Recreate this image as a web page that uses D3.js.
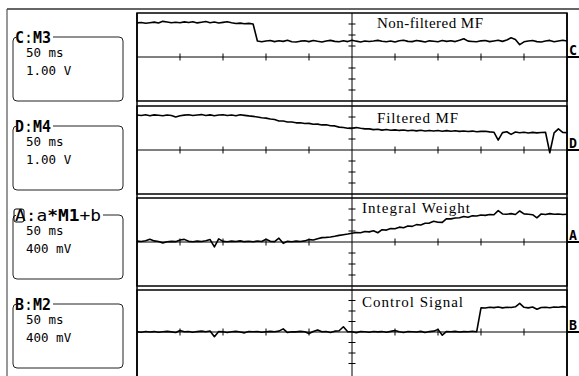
<!DOCTYPE html>
<html>
<head>
<meta charset="utf-8">
<script src="https://cdn.jsdelivr.net/npm/d3@7"></script>
<style>
  html, body { margin: 0; padding: 0; background: #fff; }
  svg { display: block; }
</style>
</head>
<body>
<svg id="scope" width="579" height="376"></svg>
<script>
// scope traces, one sample every 5 ms (50 ms/div, 10 divs), values in vertical divisions
const sampleMs = 5;
const timeTicks = [0, 50, 100, 150, 200, 250, 300, 350, 400, 450, 500];
const divTicks = [-4, -3, -2, -1, 0, 1, 2, 3, 4];

const traceC = [
  3.10,3.14,3.07,3.12,3.17,3.09,3.24,3.18,3.11,3.16,
  3.12,3.19,3.13,3.21,3.10,3.16,3.22,3.12,3.18,3.09,
  3.15,3.20,3.11,3.04,3.08,3.02,3.06,3.00,
  1.45,1.38,1.46,1.50,1.40,1.47,1.42,1.52,1.39,1.36,
  1.44,1.48,1.40,1.50,1.43,1.37,1.46,1.51,1.42,1.38,
  1.47,1.40,1.52,1.44,1.37,1.46,1.41,1.45,1.51,1.43,
  1.39,1.46,1.36,1.48,1.53,1.42,1.40,1.50,1.44,1.37,
  1.47,1.43,1.39,1.50,1.42,1.47,1.40,1.52,1.66,1.44,
  1.41,1.38,1.47,1.50,1.40,1.46,1.52,1.42,1.55,1.75,
  1.60,1.12,1.38,1.46,1.50,1.40,1.36,1.45,1.51,1.39,
  1.46,1.52,1.45
];

const traceD = [
  3.18,3.14,3.21,3.12,3.19,3.16,3.11,3.18,3.14,3.00,
  3.12,3.17,3.21,3.13,3.18,3.22,3.14,3.19,3.12,3.18,
  3.21,3.14,3.18,3.12,3.20,3.15,3.10,3.06,
  3.00,2.93,2.90,2.82,2.77,2.64,2.63,2.55,2.54,2.47,
  2.48,2.41,2.42,2.34,2.35,2.28,2.29,2.20,2.19,2.08,
  2.05,1.98,1.97,
  2.05,1.98,1.92,1.92,1.85,1.88,1.81,1.86,1.79,1.83,
  1.78,1.82,1.75,1.80,1.74,1.79,1.73,1.78,1.72,1.77,
  1.71,1.76,1.70,1.75,1.69,1.73,1.68,1.72,1.66,1.69,
  1.70,1.65,1.62,0.90,1.58,1.66,1.42,1.63,1.57,1.61,
  1.55,1.60,1.56,1.59,1.62,-0.25,1.55,1.92,1.60,1.57
];

const traceA = [
  0.08,0.05,0.12,0.25,0.10,0.04,-0.08,0.02,0.06,0.03,
  0.18,0.24,0.06,0.02,0.08,0.04,0.12,0.22,-0.45,0.28,
  0.06,0.02,0.08,0.04,0.10,0.03,0.07,0.02,0.09,0.05,
  0.25,0.06,0.03,0.35,-0.12,0.06,0.02,0.08,0.05,0.10,
  0.22,0.18,0.30,0.40,0.42,0.45,0.52,0.60,0.66,0.72,
  0.79,0.86,0.84,0.95,0.92,1.02,0.84,1.12,1.08,1.22,
  1.20,1.35,1.30,1.45,1.42,1.58,1.55,1.70,1.72,1.88,
  1.80,1.78,2.12,2.10,2.18,2.20,2.32,2.25,2.38,2.36,
  2.45,2.42,2.50,2.48,2.85,2.55,2.52,2.58,2.50,2.82,
  2.56,2.52,2.48,2.20,2.55,2.50,2.58,2.52,2.55,2.50,
  2.52
];

const traceB = [
  0.02,-0.03,0.05,0.00,0.04,-0.02,0.03,0.06,0.01,-0.04,
  0.15,0.02,0.05,-0.03,0.04,0.08,0.02,0.10,-0.45,0.05,
  0.02,-0.05,0.03,0.06,0.00,-0.08,0.04,0.02,0.05,-0.03,
  0.03,0.06,0.02,0.08,0.30,-0.05,0.03,0.01,0.06,0.02,
  -0.15,0.04,0.20,0.02,0.05,-0.04,0.08,0.12,0.50,0.02,
  0.03,-0.06,0.04,0.02,-0.03,0.05,0.01,0.04,-0.02,0.06,
  0.15,0.02,-0.04,0.05,0.03,0.00,0.06,-0.05,0.04,0.08,
  0.25,-0.30,0.05,0.02,0.06,0.00,0.04,0.02,0.07,0.03,
  2.30,2.28,2.35,2.32,2.38,2.30,2.36,2.33,2.40,2.72,
  2.35,2.30,2.38,2.16,2.34,2.36,2.31,2.38,2.35,2.42,
  2.36
];

const traceNames = ["Non-filtered MF", "Filtered MF", "Integral Weight", "Control Signal"];
const traceMarkers = ["C", "D", "A", "B"];
// box titles: [text, bold]
const boxTitles = [
  [["C", true], [":", false], ["M3", true]],
  [["D", true], [":", false], ["M4", true]],
  [["A", false], [":a", false], ["*", true], ["M1", true], ["+b", false]],
  [["B", true], [":", false], ["M2", true]]
];
const timePerDiv = ["50 ms", "50 ms", "50 ms", "50 ms"];
const voltsPerDiv = ["1.00 V", "1.00 V", "400 mV", "400 mV"];

// layout
const panelTop = [13, 106, 198, 290];
const panelZero = [57, 150, 242, 332];
const labelPos = [[377, 28, 106], [377, 123, 81], [362, 213, 108], [362, 306.5, 101]];
const boxTop = [37, 126, 215, 304];
const titleWidth = [36, 36, 86, 36];

const svg = d3.select("#scope");
const x = d3.scaleLinear().domain([0, 500]).range([137, 567]);
const traces = [traceC, traceD, traceA, traceB];

// outer frame
svg.append("line").attr("x1", 7).attr("x2", 579).attr("y1", 9).attr("y2", 9)
  .attr("stroke", "#333").attr("stroke-width", 1.3);
svg.append("line").attr("x1", 7).attr("x2", 7).attr("y1", 9).attr("y2", 376)
  .attr("stroke", "#444").attr("stroke-width", 1.1);

traces.forEach((data, k) => {
  const top = panelTop[k], zero = panelZero[k];
  const div = (zero - top) / 4;
  const y = d3.scaleLinear().domain([-4, 4]).range([zero + 4 * div, top]);
  const bottom = k === 3 ? 382 : y(-4);
  const g = svg.append("g");

  g.append("rect")
    .attr("x", x(0)).attr("y", top)
    .attr("width", x(500) - x(0)).attr("height", bottom - top)
    .attr("fill", "none").attr("stroke", "#000").attr("stroke-width", 1.5);

  // graticule: zero line + center line with ticks
  g.append("line").attr("x1", x(0)).attr("x2", x(500)).attr("y1", y(0)).attr("y2", y(0))
    .attr("stroke", "#000").attr("stroke-width", 1);
  g.selectAll(".xt").data(timeTicks.filter(t => t > 0 && t < 500 && t !== 250)).join("line")
    .attr("x1", d => x(d)).attr("x2", d => x(d))
    .attr("y1", y(0) - 3.5).attr("y2", y(0) + 3.5)
    .attr("stroke", "#000").attr("stroke-width", 1);
  g.selectAll(".yt").data(divTicks.filter(v => v !== 0 && v > -4 && v < 4)).join("line")
    .attr("x1", x(250) - 3.5).attr("x2", x(250) + 3.5)
    .attr("y1", d => y(d)).attr("y2", d => y(d))
    .attr("stroke", "#000").attr("stroke-width", 1);

  // trace
  g.append("path").datum(data)
    .attr("d", d3.line().x((d, i) => x(i * sampleMs)).y(d => y(d)))
    .attr("fill", "none").attr("stroke", "#000").attr("stroke-width", 1.6)
    .attr("stroke-linejoin", "round");

  // trace name
  const lp = labelPos[k];
  g.append("text").attr("x", lp[0]).attr("y", lp[1])
    .attr("textLength", lp[2]).attr("lengthAdjust", "spacing")
    .attr("font-family", "'Liberation Serif', 'Times New Roman', serif")
    .attr("font-size", 15).attr("fill", "#000")
    .text(traceNames[k]);

  // ground marker at the right edge
  g.append("text").attr("x", 569).attr("y", y(0) - 2.5)
    .attr("font-family", "'DejaVu Sans Mono', monospace").attr("font-weight", "bold")
    .attr("font-size", 14).attr("fill", "#000")
    .attr("textLength", 8).attr("lengthAdjust", "spacingAndGlyphs")
    .text(traceMarkers[k]);
  g.append("line").attr("x1", 567).attr("x2", 579).attr("y1", y(0)).attr("y2", y(0))
    .attr("stroke", "#000").attr("stroke-width", 2);
});

// continuous verticals
[x(0), x(250), x(500)].forEach(vx => {
  svg.append("line").attr("x1", vx).attr("x2", vx).attr("y1", 13).attr("y2", 376)
    .attr("stroke", "#000").attr("stroke-width", vx === x(250) ? 1 : 1.5);
});

// left info boxes
boxTop.forEach((top, k) => {
  const g = svg.append("g");
  g.append("rect").attr("x", 13).attr("y", top).attr("width", 110).attr("height", 64)
    .attr("rx", 4).attr("fill", "none").attr("stroke", "#222").attr("stroke-width", 1);
  g.append("rect").attr("x", 16).attr("y", top - 4).attr("width", titleWidth[k] + 1).attr("height", 8)
    .attr("fill", "#fff");
  const t = g.append("text").attr("x", 15).attr("y", top + 5.5)
    .attr("font-family", "'DejaVu Sans Mono', monospace").attr("font-size", 15)
    .attr("textLength", titleWidth[k]).attr("lengthAdjust", "spacingAndGlyphs")
    .attr("fill", "#000");
  boxTitles[k].forEach(([s, b]) => {
    t.append("tspan").attr("font-weight", b ? "bold" : "normal").text(s);
  });
  if (k === 2) {
    g.append("rect").attr("x", 14).attr("y", top - 6).attr("width", 10).attr("height", 13)
      .attr("rx", 2).attr("fill", "none").attr("stroke", "#000").attr("stroke-width", 1);
  }
  g.append("text").attr("x", 26).attr("y", top + 20)
    .attr("font-family", "'DejaVu Sans Mono', monospace").attr("font-size", 12.5).attr("fill", "#000")
    .text(timePerDiv[k]);
  g.append("text").attr("x", 26).attr("y", top + 38)
    .attr("font-family", "'DejaVu Sans Mono', monospace").attr("font-size", 12.5).attr("fill", "#000")
    .text(voltsPerDiv[k]);
});
</script>
</body>
</html>
